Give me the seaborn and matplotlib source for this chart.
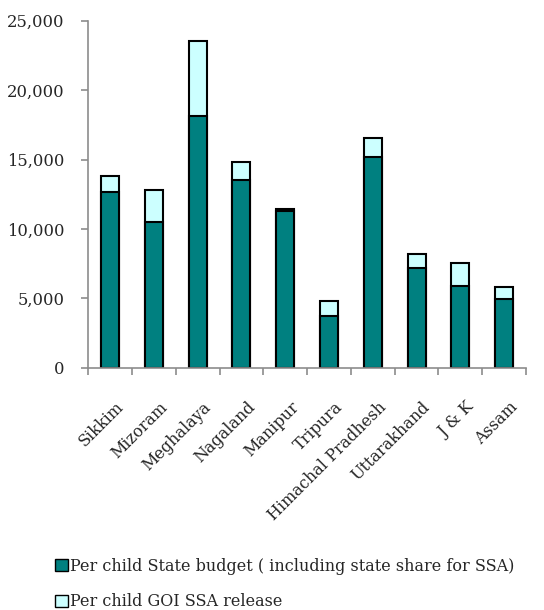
import matplotlib
matplotlib.use("Agg")
import matplotlib.pyplot as plt
import matplotlib.transforms as mtransforms
import seaborn as sns
import pandas as pd
import numpy as np
from matplotlib.patches import Patch
from matplotlib.ticker import FuncFormatter

states = ["Sikkim", "Mizoram", "Meghalaya", "Nagaland", "Manipur", "Tripura",
          "Himachal Pradhesh", "Uttarakhand", "J & K", "Assam"]
state_budget = [12700, 10500, 18150, 13500, 11300, 3740, 15220, 7170, 5920, 4960]
goi_release = [1130, 2330, 5400, 1320, 140, 1050, 1300, 1050, 1630, 890]
y_ticks = [0, 5000, 10000, 15000, 20000, 25000]
legend_labels = ["Per child State budget ( including state share for SSA)",
                 "Per child GOI SSA release"]

teal = "#008080"
cyan = "#CCFFFF"

df = pd.DataFrame({"state": states, "budget": state_budget, "goi": goi_release})
df["total"] = df["budget"] + df["goi"]

sns.set_theme(style="white")
plt.rcParams["font.family"] = ["DejaVu Serif"]

fig = plt.figure(figsize=(5.44, 6.10), dpi=100)
ax = fig.add_axes([0.162, 0.397, 0.805, 0.569])

sns.barplot(data=df, x="state", y="total", color=cyan, width=0.41,
            edgecolor="black", linewidth=1.5, ax=ax, saturation=1)
sns.barplot(data=df, x="state", y="budget", color=teal, width=0.41,
            edgecolor="black", linewidth=1.5, ax=ax, saturation=1)

ax.set_ylim(0, 25000)
ax.set_xlim(-0.5, len(states) - 0.5)
ax.set_yticks(y_ticks)
ax.yaxis.set_major_formatter(FuncFormatter(lambda v, p: f"{int(v):,}"))
ax.set_xlabel("")
ax.set_ylabel("")

for s in ["top", "right"]:
    ax.spines[s].set_visible(False)
for s in ["left", "bottom"]:
    ax.spines[s].set_color("#8c8c8c")
    ax.spines[s].set_linewidth(1.2)

ax.set_xticks(np.arange(len(states)))
ax.set_xticklabels(states, rotation=45, ha="right", rotation_mode="anchor", fontsize=11.5)
ax.tick_params(axis="x", length=0, pad=22)
offset = mtransforms.ScaledTranslation(0.05, 0, fig.dpi_scale_trans)
for lbl in ax.get_xticklabels():
    lbl.set_transform(lbl.get_transform() + offset)
ax.set_xticks(np.arange(len(states) + 1) - 0.5, minor=True)
ax.tick_params(axis="x", which="minor", direction="out", length=5, color="#8c8c8c", width=1.2, bottom=True)
ax.tick_params(axis="y", direction="out", length=5, color="#8c8c8c", width=1.2,
               labelsize=11.8, left=True, pad=12)

handles = [Patch(facecolor=teal, edgecolor="black", linewidth=1),
           Patch(facecolor=cyan, edgecolor="black", linewidth=1)]
fig.legend(handles, legend_labels, loc="lower left", bbox_to_anchor=(0.075, -0.024),
           frameon=False, fontsize=11.5, handlelength=0.8, handleheight=0.8,
           handletextpad=0.15, labelspacing=1.15)

fig.savefig("out.png", dpi=100)
